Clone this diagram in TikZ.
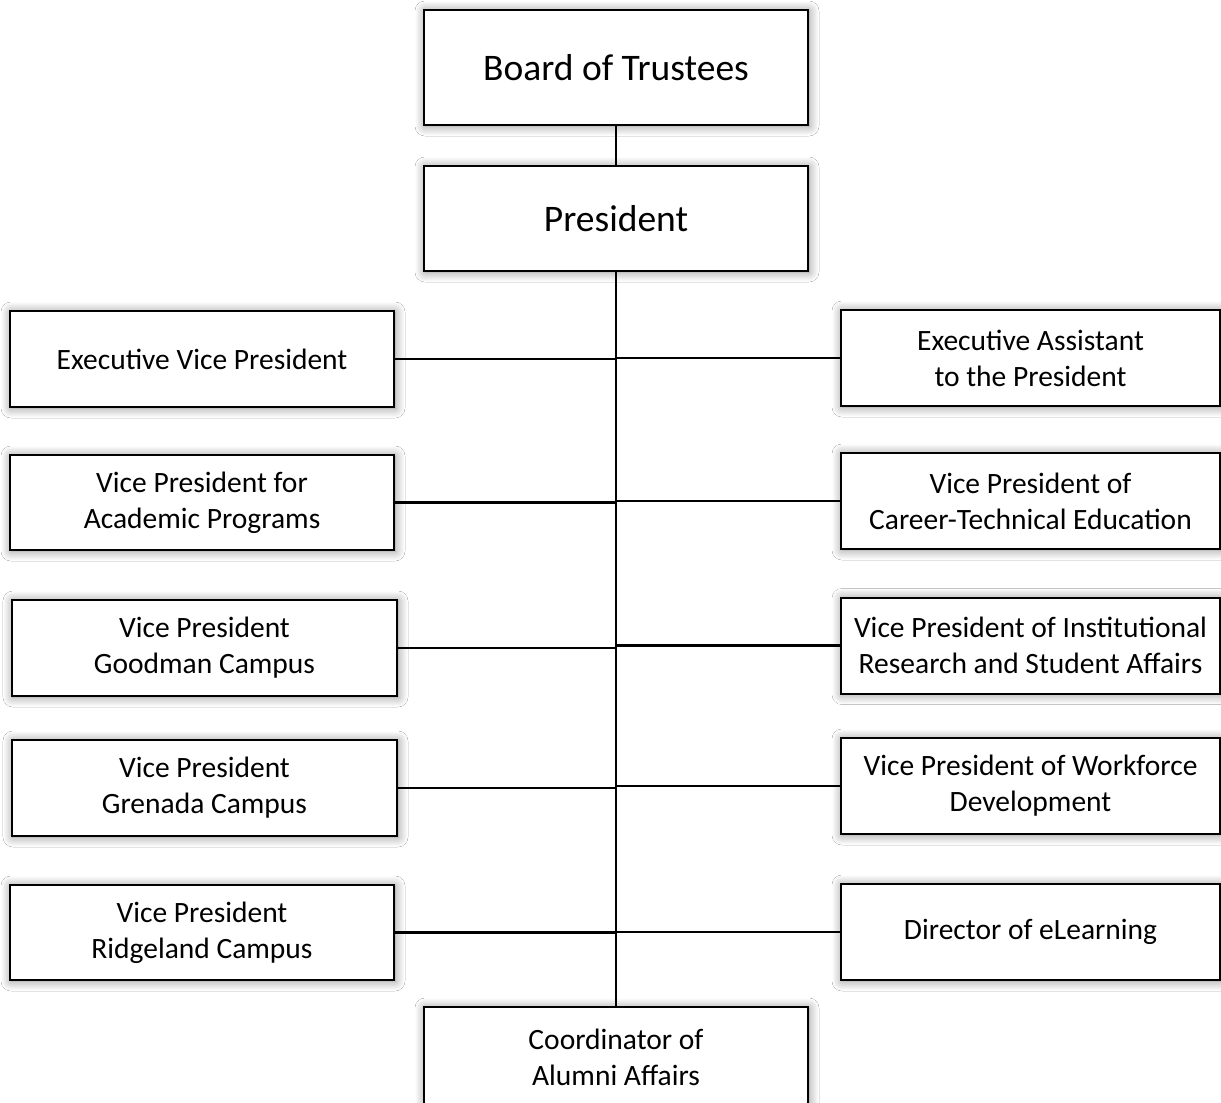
\documentclass[tikz,border=0pt]{standalone}
\usepackage{fontspec}
\setmainfont{Carlito}
\usetikzlibrary{shadows.blur}
\begin{document}
\begin{tikzpicture}[x=1pt,y=-1pt,
  orgbox/.style={draw=black, line width=2pt, fill=white, align=center, inner sep=0pt,
    font=\fontsize{29.5}{36}\selectfont,
    blur shadow={shadow xshift=1pt, shadow yshift=-1pt, shadow blur radius=10pt, shadow blur steps=12, shadow opacity=45}},
  topbox/.style={orgbox, font=\fontsize{37.5}{42}\selectfont},
  link/.style={draw=black, line width=2.3pt}]
\fill[white] (0,0) rectangle (1221,1103);
\useasboundingbox (0,0) rectangle (1221,1103);
% top
\node[topbox, minimum width=384, minimum height=115] (board) at (616,67.5) {Board of Trustees};
\node[topbox, minimum width=384, minimum height=105] (pres) at (616,218.5) {President};
% left column
\node[orgbox, minimum width=384, minimum height=96] (evp) at (202,359) {Executive Vice President};
\node[orgbox, minimum width=384, minimum height=95] (acad) at (202,502.5) {Vice President for\\Academic Programs};
\node[orgbox, minimum width=385, minimum height=96] (good) at (204.5,648) {Vice President\\Goodman Campus};
\node[orgbox, minimum width=385, minimum height=96] (gren) at (204.5,788) {Vice President\\Grenada Campus};
\node[orgbox, minimum width=384, minimum height=95] (ridge) at (202,932.5) {Vice President\\Ridgeland Campus};
% right column
\node[orgbox, minimum width=379, minimum height=96] (ea) at (1030.5,358) {Executive Assistant\\to the President};
\node[orgbox, minimum width=379, minimum height=96] (cte) at (1030.5,501) {Vice President of\\Career-Technical Education};
\node[orgbox, minimum width=379, minimum height=96] (ir) at (1030.5,645.5) {Vice President of Institutional\\Research and Student Affairs};
\node[orgbox, minimum width=379, minimum height=96] (wf) at (1030.5,786) {Vice President of Workforce\\Development};
\node[orgbox, minimum width=379, minimum height=96] (elearn) at (1030.5,932) {Director of eLearning};
% bottom
\node[orgbox, minimum width=384, minimum height=100] (coord) at (616,1057) {Coordinator of\\Alumni Affairs};
% connectors
\draw[link] (board.south) -- (pres.north);
\draw[link] (pres.south) -- (coord.north);
\foreach \n in {evp,acad,good,gren,ridge}{
  \draw[link] (\n.east) -- (\n.east -| pres.south);
}
\foreach \n in {ea,cte,ir,wf,elearn}{
  \draw[link] (\n.west) -- (\n.west -| pres.south);
}
\end{tikzpicture}
\end{document}
